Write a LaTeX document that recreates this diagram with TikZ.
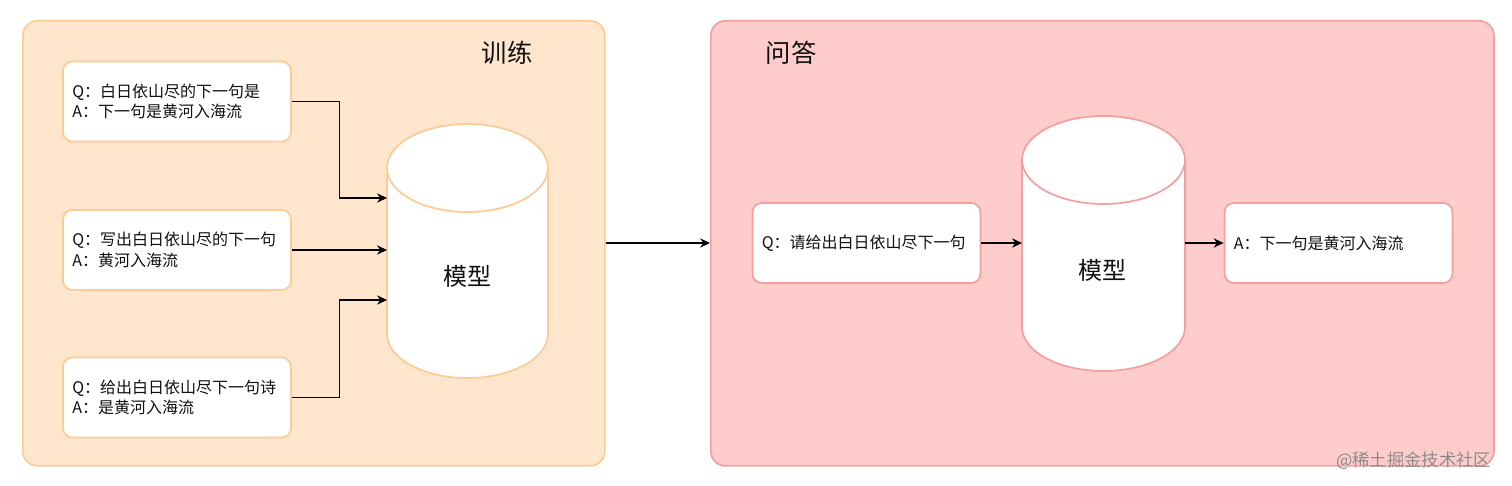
\documentclass[tikz,border=0pt]{standalone}
\usepackage{fontspec}
\setmainfont{Noto Sans CJK SC}
\usetikzlibrary{arrows.meta,calc}
\definecolor{orfill}{HTML}{FFE6CC}
\definecolor{ordraw}{HTML}{FCCB97}
\definecolor{pkfill}{HTML}{FFCCCC}
\definecolor{pkdraw}{HTML}{F4A0A0}
\definecolor{txt}{HTML}{111111}
\begin{document}
\begin{tikzpicture}[x=0.75pt,y=-0.75pt,
  container/.style={rounded corners=11pt,line width=1.3pt},
  qabox/.style={rectangle,rounded corners=7pt,fill=white,line width=1.3pt,
    minimum width=171pt,minimum height=60pt,text width=157pt,inner xsep=7pt,
    align=left,font=\fontsize{12}{15.5}\selectfont,text=txt},
  title/.style={font=\fontsize{19}{22}\selectfont,text=txt},
  modeltxt/.style={font=\fontsize{18}{21}\selectfont,text=txt},
  arr/.style={-{Stealth[length=7.5pt,width=7pt,inset=2.5pt]},line width=0.9pt,black},
  cyl/.style={fill=white,line width=1.3pt}
]
\useasboundingbox (0,0) rectangle (1512,485);
% containers
\node[container,draw=ordraw,fill=orfill,minimum width=436.5pt,minimum height=333.75pt,anchor=north west,inner sep=0pt] (train) at (22,20) {};
\node[container,draw=pkdraw,fill=pkfill,minimum width=587.25pt,minimum height=333.75pt,anchor=north west,inner sep=0pt] (qa) at (710,20) {};
\node[title] (ttrain) at (507,53) {训练};
\node[title] (tqa) at (791,53) {问答};
% left boxes
\node[qabox,draw=ordraw] (b1) at (177,101.5) {Q：白日依山尽的下一句是\\A：下一句是黄河入海流};
\node[qabox,draw=ordraw] (b2) at (177,250) {Q：写出白日依山尽的下一句\\A：黄河入海流};
\node[qabox,draw=ordraw] (b3) at (177,397.5) {Q：给出白日依山尽下一句诗\\A：是黄河入海流};
% left cylinder
\path[cyl,draw=ordraw] (387,168) arc[start angle=180,end angle=360,x radius=80.5,y radius=44]
  -- (548,334) arc[start angle=0,end angle=180,x radius=80.5,y radius=44] -- cycle;
\draw[ordraw,line width=1.3pt] (387,168) arc[start angle=180,end angle=0,x radius=80.5,y radius=44];
\node[modeltxt,minimum width=120pt,minimum height=10pt] (m1) at (467.5,276) {模型};
\coordinate (m1a) at (387,198);
\coordinate (m1b) at (387,250);
\coordinate (m1c) at (387,300);
\draw[arr] (b1.east) -- ++(48,0) |- (m1a);
\draw[arr] (b2.east) -- (m1b);
\draw[arr] (b3.east) -- ++(48,0) |- (m1c);
% middle arrow
\draw[arr] (train.east |- 0,243) -- (qa.west |- 0,243);
% right side
\node[qabox,draw=pkdraw] (q) at (866.5,243) {Q：请给出白日依山尽下一句};
\node[qabox,draw=pkdraw] (a) at (1338.5,243) {A：下一句是黄河入海流};
\path[cyl,draw=pkdraw] (1022,160) arc[start angle=180,end angle=360,x radius=81.5,y radius=44]
  -- (1185,327) arc[start angle=0,end angle=180,x radius=81.5,y radius=44] -- cycle;
\draw[pkdraw,line width=1.3pt] (1022,160) arc[start angle=180,end angle=0,x radius=81.5,y radius=44];
\node[modeltxt] (m2) at (1102,270) {模型};
\coordinate (m2in) at (1022,243);
\coordinate (m2out) at (1185,243);
\draw[arr] (q.east) -- (m2in);
\draw[arr] (m2out) -- (a.west);
% credit
\node[font=\fontsize{13}{15}\selectfont,text=black!45,anchor=east] (credit) at (1496,461) {@稀土掘金技术社区};
\end{tikzpicture}
\end{document}
